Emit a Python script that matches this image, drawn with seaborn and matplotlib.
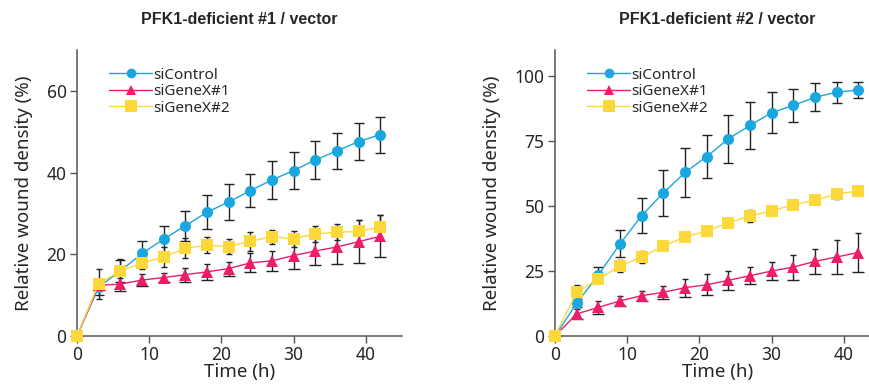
import numpy as np
import pandas as pd
import matplotlib
matplotlib.use("Agg")
import matplotlib.pyplot as plt
import seaborn as sns

# ---- data ----
TIME = [0, 3, 6, 9, 12, 15, 18, 21, 24, 27, 30, 33, 36, 39, 42]
GROUPS = ["siControl", "siGeneX#1", "siGeneX#2"]

# panel 1 : PFK1-deficient #1 / vector
p1_ctrl = [0, 12.0, 15.9, 20.2, 23.7, 27.0, 30.3, 32.8, 35.6, 38.2, 40.5, 43.1, 45.3, 47.6, 49.3]
p1_ctrl_err = [0, 2.0, 2.8, 3.0, 3.3, 3.7, 4.1, 4.4, 4.1, 4.6, 4.5, 4.6, 4.4, 4.6, 4.4]
p1_gx1 = [0, 12.4, 12.7, 13.7, 14.3, 15.0, 15.7, 16.5, 17.9, 18.4, 19.7, 20.8, 21.8, 23.1, 24.4]
p1_gx1_err = [0, 1.2, 1.6, 1.4, 1.0, 1.7, 2.0, 1.7, 2.3, 2.5, 3.2, 3.5, 4.2, 5.2, 5.1]
p1_gx2 = [0, 12.8, 15.9, 17.9, 19.3, 21.5, 22.2, 21.9, 23.2, 24.3, 23.8, 25.0, 25.4, 25.6, 26.6]
p1_gx2_err = [0, 3.7, 2.9, 1.5, 2.5, 2.4, 2.0, 1.8, 2.3, 1.7, 2.0, 2.0, 1.9, 2.7, 3.0]

# panel 2 : PFK1-deficient #2 / vector
p2_ctrl = [0, 12.6, 23.5, 35.4, 46.3, 55.0, 62.9, 69.0, 75.8, 81.0, 85.9, 88.7, 91.8, 93.8, 94.6]
p2_ctrl_err = [0, 1.5, 3.2, 5.2, 6.8, 8.8, 9.3, 8.4, 9.3, 8.9, 7.9, 6.4, 5.4, 4.0, 3.2]
p2_gx1 = [0, 8.5, 11.0, 13.5, 15.5, 16.8, 18.6, 19.7, 21.4, 23.2, 25.0, 26.5, 28.7, 30.4, 32.1]
p2_gx1_err = [0, 2.0, 2.5, 2.0, 2.0, 2.6, 3.5, 4.0, 3.6, 3.3, 3.6, 4.8, 4.9, 6.5, 7.4]
p2_gx2 = [0, 16.8, 21.9, 26.9, 30.4, 34.6, 38.1, 40.4, 43.5, 46.2, 48.1, 50.5, 52.2, 54.6, 55.8]
p2_gx2_err = [0, 3.0, 1.0, 2.4, 2.3, 1.0, 1.0, 1.0, 1.0, 2.2, 1.0, 1.8, 1.0, 2.0, 1.0]

TITLES = ["PFK1-deficient #1 / vector", "PFK1-deficient #2 / vector"]
YTICKS = [[0, 20, 40, 60], [0, 25, 50, 75, 100]]
YMAX = [70, 110]

COLORS = {"siControl": "#1aa7e0", "siGeneX#1": "#ee1c6b", "siGeneX#2": "#fdd83a"}
MARKERS = {"siControl": "o", "siGeneX#1": "^", "siGeneX#2": "s"}
MSIZE = {"siControl": 7, "siGeneX#1": 7, "siGeneX#2": 8}


def to_long(ctrl, ctrl_e, gx1, gx1_e, gx2, gx2_e):
    rows = []
    for g, v, e in zip(GROUPS, [ctrl, gx1, gx2], [ctrl_e, gx1_e, gx2_e]):
        for t, y, s in zip(TIME, v, e):
            rows.append({"time": t, "value": y, "err": s, "group": g})
    return pd.DataFrame(rows)


panels = [
    to_long(p1_ctrl, p1_ctrl_err, p1_gx1, p1_gx1_err, p1_gx2, p1_gx2_err),
    to_long(p2_ctrl, p2_ctrl_err, p2_gx1, p2_gx1_err, p2_gx2, p2_gx2_err),
]

sns.set_style("ticks")
plt.rcParams["font.family"] = ["Noto Sans", "DejaVu Sans"]

fig = plt.figure(figsize=(8.7, 3.88), dpi=100)
W, H = 870, 388
boxes = [(77, 50, 325, 286), (555, 50, 325, 286)]

for i, df in enumerate(panels):
    x0, y0, w, h = boxes[i]
    ax = fig.add_axes([x0 / W, 1 - (y0 + h) / H, w / W, h / H])

    # error bars first, then lines/markers on top
    for g in GROUPS:
        d = df[df.group == g]
        ax.errorbar(d.time, d.value, yerr=d.err, fmt="none", ecolor="#222222",
                    elinewidth=1.0, capsize=2.5, capthick=1.0, zorder=2, clip_on=False)

    sns.lineplot(data=df, x="time", y="value", hue="group", style="group",
                 hue_order=GROUPS, style_order=GROUPS, palette=COLORS,
                 markers=MARKERS, dashes=False, linewidth=1.0, markersize=8,
                 markeredgewidth=0, ax=ax, legend=False, zorder=3, clip_on=False)
    for line, g in zip(ax.lines, GROUPS):
        line.set_markersize(MSIZE[g])

    # legend
    handles = [plt.Line2D([], [], color=COLORS[g], marker=MARKERS[g], markersize=MSIZE[g],
                          markeredgewidth=0, linewidth=1.0) for g in GROUPS]
    ax.legend(handles, GROUPS, loc="upper left", bbox_to_anchor=(0.08, 0.96),
              frameon=False, fontsize=11, handlelength=2.8, handletextpad=0.1,
              labelspacing=0.1, borderaxespad=0)

    ax.set_xlim(0, 45)
    ax.set_ylim(0, YMAX[i])
    ax.set_xticks([0, 10, 20, 30, 40])
    ax.set_yticks(YTICKS[i])
    ax.set_xlabel("Time (h)", fontsize=13.5, labelpad=-1)
    ax.set_ylabel("Relative wound density (%)", fontsize=13.5, labelpad=10)
    ax.tick_params(labelsize=12.5, length=5, width=1, color="#555555", pad=2.5)
    for s in ["top", "right"]:
        ax.spines[s].set_visible(False)
    for s in ["left", "bottom"]:
        ax.spines[s].set_color("#555555")
        ax.spines[s].set_linewidth(1.1)

    fig.text((x0 + w / 2) / W, 1 - 19 / H, TITLES[i], ha="center", va="center",
             fontsize=11.5, fontweight="bold", family="Liberation Sans")

fig.savefig("out.png", dpi=100)
